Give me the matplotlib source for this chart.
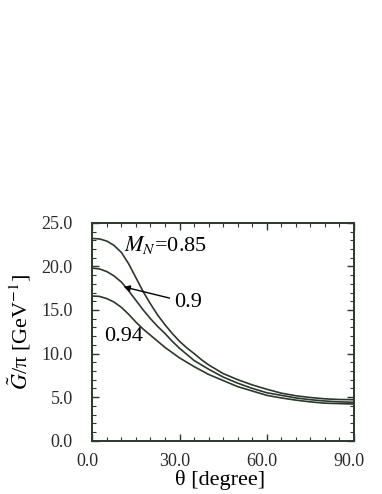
import matplotlib
matplotlib.use("Agg")
import matplotlib.pyplot as plt
import matplotlib.transforms as mtrans
from matplotlib.ticker import MultipleLocator, FixedLocator

# --- dati ---
theta = [0, 2.5, 5, 7.5, 10, 12.5, 15, 17.5, 20, 22.5, 25, 27.5, 30, 32.5, 35, 37.5,
         40, 45, 50, 55, 60, 65, 70, 75, 80, 85, 90]
g_085 = [23.2, 23.15, 22.9, 22.4, 21.6, 20.3, 18.7, 17.1, 15.7, 14.4, 13.3, 12.3,
         11.4, 10.65, 10.0, 9.3, 8.7, 7.7, 7.0, 6.4, 5.9, 5.45, 5.15, 4.95, 4.8, 4.72, 4.7]
g_090 = [19.8, 19.7, 19.4, 18.9, 18.2, 17.2, 16.1, 15.0, 14.0, 13.1, 12.3, 11.4,
         10.6, 9.9, 9.2, 8.7, 8.2, 7.3, 6.6, 6.0, 5.5, 5.2, 4.9, 4.7, 4.55, 4.45, 4.4]
g_094 = [16.6, 16.55, 16.3, 15.9, 15.3, 14.5, 13.6, 12.8, 12.1, 11.4, 10.7, 10.1,
         9.5, 9.0, 8.5, 8.05, 7.6, 6.9, 6.2, 5.7, 5.2, 4.9, 4.65, 4.45, 4.3, 4.25, 4.2]

x_ticks = [0, 30, 60, 90]
x_labels = ["0.0", "30.0", "60.0", "90.0"]
y_ticks = [0, 5, 10, 15, 20, 25]
y_labels = ["0.0", "5.0", "10.0", "15.0", "20.0", "25.0"]

plt.rcParams['font.family'] = ['Liberation Serif', 'DejaVu Serif']
plt.rcParams['mathtext.fontset'] = 'stix'

line_col = '#2c372e'
text_col = '#2a2a2a'

fig = plt.figure(figsize=(3.82, 4.94), dpi=100)
ax = fig.add_axes([0.2416, 0.108, 0.685, 0.441])

for serie in (g_085, g_090, g_094):
    ax.plot(theta, serie, color=line_col, linewidth=1.2)

ax.set_xlim(0, 90)
ax.set_ylim(0, 25)

ax.xaxis.set_major_locator(FixedLocator(x_ticks))
ax.set_xticklabels(x_labels)
ax.yaxis.set_major_locator(FixedLocator(y_ticks))
ax.set_yticklabels(y_labels)
ax.xaxis.set_minor_locator(MultipleLocator(5))
ax.yaxis.set_minor_locator(MultipleLocator(1))

ax.tick_params(which='both', direction='in', top=True, right=True,
               color=line_col, labelcolor=text_col, labelsize=13)
ax.tick_params(which='major', length=5, width=1.0)
ax.tick_params(which='minor', length=3, width=0.8)
ax.tick_params(axis='x', which='major', pad=9)
ax.tick_params(axis='y', which='major', pad=14)
for s in ax.spines.values():
    s.set_color(line_col)
    s.set_linewidth(1.4)

# le etichette dell'asse x sono leggermente spostate a sinistra nell'originale
shift = mtrans.ScaledTranslation(-5 / 100, 0, fig.dpi_scale_trans)
for lab in ax.get_xticklabels():
    lab.set_transform(lab.get_transform() + shift)

ax.set_xlabel('θ [degree]', fontsize=16, color='black')
ax.set_ylabel(r'$\tilde{G}$/π [GeV$^{-1}$]', fontsize=16, color='black')
ax.xaxis.set_label_coords(0.49, -0.134)
ax.yaxis.set_label_coords(-0.228, 0.5)

# etichette delle curve
ax.text(10.9, 22.4, r'$M_N$=0.85', fontsize=16, va='center', ha='left')
ax.text(4.0, 11.95, '0.94', fontsize=16, va='center', ha='left')
ax.annotate('0.9', xy=(10.8, 17.65), xytext=(28.0, 15.85), fontsize=16,
            va='center', ha='left',
            arrowprops=dict(arrowstyle='-|>', color='black', lw=1.0,
                            mutation_scale=9, shrinkA=1, shrinkB=0))

fig.savefig('out.png', dpi=100)
